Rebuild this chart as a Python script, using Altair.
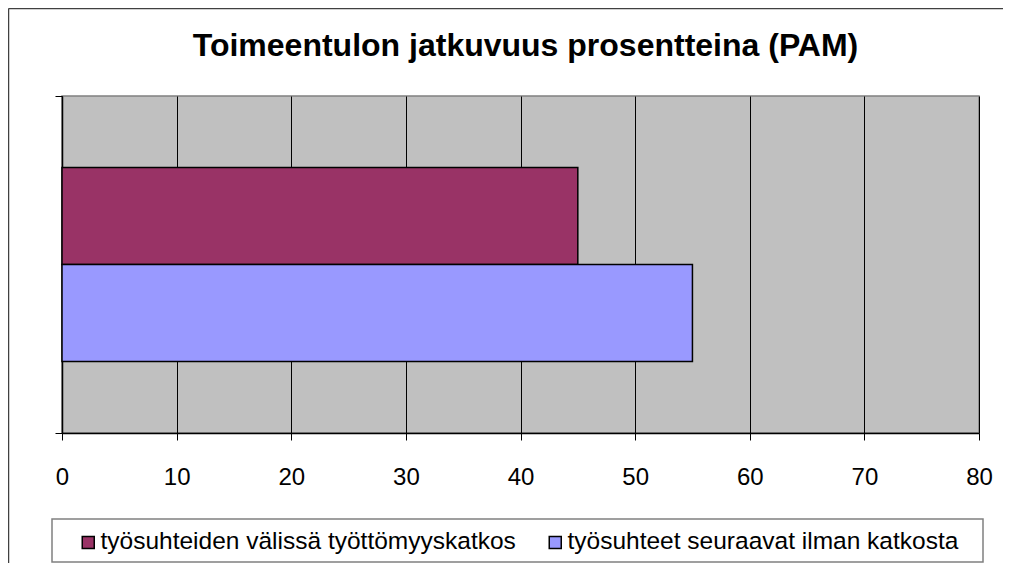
import altair as alt
import pandas as pd

title_text = "Toimeentulon jatkuvuus prosentteina (PAM)"
categories = ["PAM", "PAM"]
series = ["työsuhteiden välissä työttömyyskatkos", "työsuhteet seuraavat ilman katkosta"]
values = [45, 55]
colors = ["#993366", "#9999FF"]
x_ticks = [0, 10, 20, 30, 40, 50, 60, 70, 80]

FONT = "Liberation Sans"
W, H = 917, 337

df = pd.DataFrame({"cat": categories, "series": series, "value": values})
one = pd.DataFrame({"k": [0]})
title_df = pd.DataFrame({"t": [title_text]})

bars = alt.Chart(df).mark_bar(stroke="black", strokeWidth=1.5).encode(
    x=alt.X("value:Q", scale=alt.Scale(domain=[0, 80], nice=False),
            axis=alt.Axis(values=x_ticks, title=None, grid=True, gridColor="black",
                          gridWidth=1, gridOpacity=1, tickSize=7, tickColor="black",
                          tickWidth=1, domainColor="black", domainWidth=1.5,
                          labelFontSize=24, labelPadding=25, labelFont=FONT,
                          labelColor="black", labelFlush=False)),
    y=alt.Y("cat:N", scale=alt.Scale(paddingInner=0, paddingOuter=0),
            axis=alt.Axis(title=None, labels=False, tickBand="extent", tickSize=7,
                          tickColor="black", domainColor="black", domainWidth=1.5,
                          grid=False)),
    yOffset=alt.YOffset("series:N", sort=series,
                        scale=alt.Scale(paddingOuter=0.736, paddingInner=0)),
    color=alt.Color("series:N", sort=series,
                    scale=alt.Scale(domain=series, range=colors),
                    legend=alt.Legend(title=None, orient="none", direction="horizontal",
                                      legendX=14, legendY=434, symbolType="square",
                                      symbolSize=144, symbolStrokeColor="black",
                                      symbolStrokeWidth=1.5, labelFontSize=24.5,
                                      labelFont=FONT, labelColor="black",
                                      labelLimit=700, labelOffset=0, columnPadding=27,
                                      padding=0, zindex=1)),
)

legend_box = alt.Chart(one).mark_rect(fill="white", stroke="#808080", strokeWidth=1.5).encode(
    x=alt.value(-10), x2=alt.value(921), y=alt.value(423), y2=alt.value(466)
)

title_mark = alt.Chart(title_df).mark_text(
    font=FONT, fontSize=32, fontWeight="bold", color="black",
    align="center", baseline="alphabetic"
).encode(text="t:N", x=alt.value(W / 2 + 5), y=alt.value(-40))

border_top = alt.Chart(one).mark_rule(color="#404040", strokeWidth=1.5).encode(
    x=alt.value(-53.5), x2=alt.value(W + 24), y=alt.value(-87.5)
)
border_left = alt.Chart(one).mark_rule(color="#404040", strokeWidth=1.5).encode(
    x=alt.value(-53.5), y=alt.value(-87.5), y2=alt.value(H + 130)
)

chart = alt.layer(legend_box, bars, title_mark, border_top, border_left).properties(
    width=W, height=H,
    autosize=alt.AutoSizeParams(type="none"),
    padding={"left": 54, "top": 88, "right": 24, "bottom": 130},
).configure(font=FONT).configure_view(
    fill="#C0C0C0", stroke="#808080", strokeWidth=1.5
)

chart.save("out.html", embed_options={"renderer": "svg", "actions": False})
